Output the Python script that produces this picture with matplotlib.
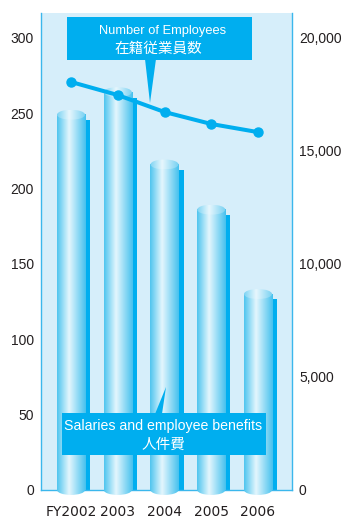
import numpy as np
import matplotlib
matplotlib.use('Agg')
import matplotlib.pyplot as plt
from matplotlib.colors import LinearSegmentedColormap
from matplotlib.patches import Ellipse, Rectangle, Polygon

# data
years = ['FY2002', '2003', '2004', '2005', '2006']
salaries = [249, 264, 216, 186, 130]               # left axis
employees = [18050, 17470, 16720, 16190, 15830]    # right axis
left_ticks = [0, 50, 100, 150, 200, 250, 300]
right_ticks = [0, 5000, 10000, 15000, 20000]

BLUE = '#00AEEF'
BG = '#D6EEFA'
TXT = '#231F20'
SPINE = '#3BB7EC'
SANS = ['Liberation Sans', 'DejaVu Sans']
JP = ['Noto Sans CJK JP', 'DejaVu Sans']

W, H = 344, 519
fig = plt.figure(figsize=(W / 100, H / 100), dpi=100)


def fx(px):
    return px / W


def fy(py):
    return 1 - py / H


ymin, ymax = -5, 316.5
scale = 20000 / 300

ax = fig.add_axes([fx(41), fy(497.5), fx(292) - fx(41), fy(13) - fy(497.5)])
ax.set_facecolor('none')
ax.axhspan(0, ymax, color=BG, lw=0, zorder=0)

body = LinearSegmentedColormap.from_list(
    'body', [(0, '#4EC5EF'), (0.42, '#E4F6FD'), (1, '#45C1EE')])
cap_cm = LinearSegmentedColormap.from_list(
    'cap', [(0, '#7CD3F3'), (0.42, '#E8F7FD'), (1, '#74D0F2')])
grad = np.linspace(0, 1, 256)[None, :]

x = np.arange(len(years))
bw = 0.6
sw = 0.107
cap = 6.6
for xi, v in zip(x, salaries):
    # flat shadow bar behind the cylinder
    ax.add_patch(Rectangle((xi + bw / 2, 0), sw, v - 3.6, color=BLUE, lw=0, zorder=1))
    ax.imshow(grad, cmap=body, extent=(xi - bw / 2, xi + bw / 2, 0, v),
              aspect='auto', zorder=3, interpolation='bilinear')
    bot = Ellipse((xi, 0), bw, cap, transform=ax.transData)
    im = ax.imshow(grad, cmap=body, extent=(xi - bw / 2, xi + bw / 2, -cap / 2, 0),
                   aspect='auto', zorder=3, interpolation='bilinear')
    im.set_clip_path(bot)
    top = Ellipse((xi, v), bw, cap, transform=ax.transData)
    im = ax.imshow(grad, cmap=cap_cm, extent=(xi - bw / 2, xi + bw / 2, v - cap / 2, v + cap / 2),
                   aspect='auto', zorder=3, interpolation='bilinear')
    im.set_clip_path(top)

ax.set_xlim(-0.642, 4.727)
ax.set_ylim(ymin, ymax)
ax.set_xticks(x)
ax.set_xticklabels(years)
ax.set_yticks(left_ticks)
ax.tick_params(length=0, labelsize=10, labelcolor=TXT)
ax.tick_params(axis='y', pad=5)
ax.tick_params(axis='x', pad=11)
for lab in ax.get_xticklabels() + ax.get_yticklabels():
    lab.set_family(SANS)
for s in ['top', 'right']:
    ax.spines[s].set_visible(False)
ax.spines['bottom'].set_position(('data', 0))
ax.spines['left'].set_bounds(0, ymax)
for s in ['left', 'bottom']:
    ax.spines[s].set_color(SPINE)
    ax.spines[s].set_linewidth(1)

ax2 = ax.twinx()
ax2.plot(x, employees, color=BLUE, lw=2.9, marker='o', ms=6.5, zorder=5)
ax2.set_ylim(ymin * scale, ymax * scale)
ax2.set_yticks(right_ticks)
ax2.set_yticklabels([f'{t:,}' for t in right_ticks], family=SANS)
ax2.tick_params(length=0, labelsize=10, labelcolor=TXT, pad=5)
for s in ['top', 'left', 'bottom']:
    ax2.spines[s].set_visible(False)
ax2.spines['right'].set_bounds(0, ymax * scale)
ax2.spines['right'].set_color(SPINE)
ax2.spines['right'].set_linewidth(1)

# callout boxes
fig.add_artist(Rectangle((fx(67), fy(60)), fx(252) - fx(67), fy(17) - fy(60),
                         transform=fig.transFigure, color=BLUE, lw=0, zorder=5))
fig.add_artist(Polygon([(fx(145), fy(59)), (fx(156), fy(59)), (fx(150), fy(103))],
                       transform=fig.transFigure, color=BLUE, lw=0, zorder=5))
fig.text(fx(163), fy(31), 'Number of Employees', ha='center', va='center',
         family=SANS, size=9.3, color='white', zorder=6)
fig.text(fx(158), fy(48.5), '在籍従業員数', ha='center', va='center',
         family=JP, size=10.5, color='white', zorder=6)

fig.add_artist(Rectangle((fx(62), fy(455)), fx(266) - fx(62), fy(413) - fy(455),
                         transform=fig.transFigure, color=BLUE, lw=0, zorder=5))
fig.add_artist(Polygon([(fx(155), fy(414)), (fx(162), fy(414)), (fx(166), fy(387))],
                       transform=fig.transFigure, color=BLUE, lw=0, zorder=5))
fig.text(fx(163.5), fy(426), 'Salaries and employee benefits', ha='center', va='center',
         family=SANS, size=10.2, color='white', zorder=6)
fig.text(fx(163), fy(445), '人件費', ha='center', va='center',
         family=JP, size=10.5, color='white', zorder=6)

fig.savefig('out.png', dpi=100)
